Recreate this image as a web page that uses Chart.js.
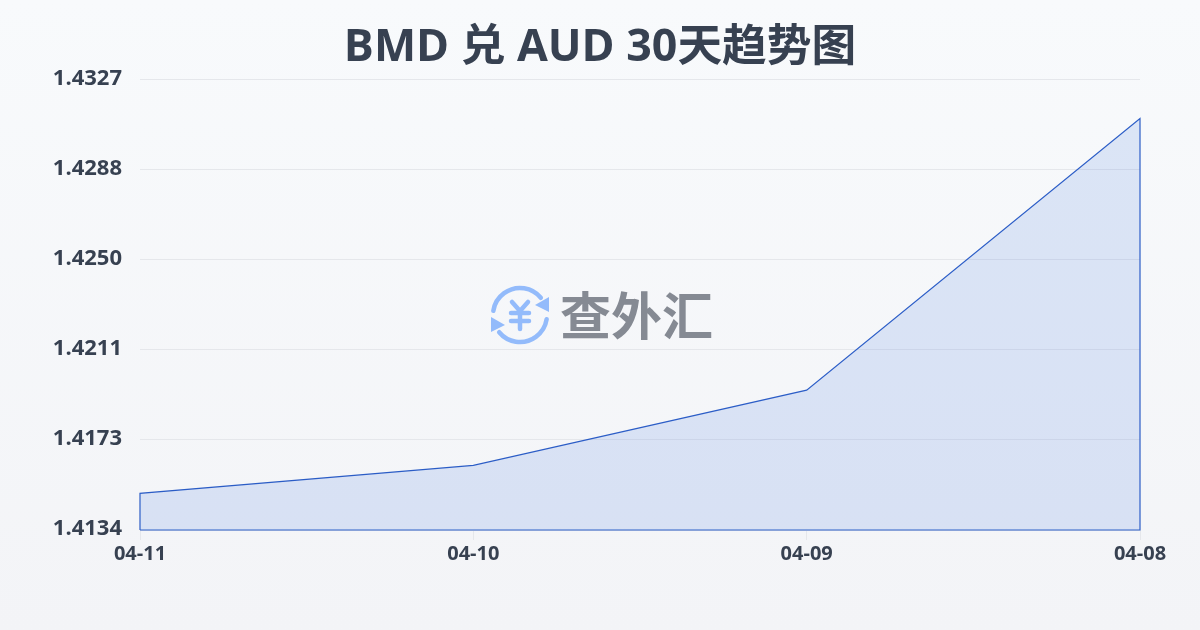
<!DOCTYPE html>
<html>
<head>
<meta charset="utf-8">
<style>
    html, body { margin: 0; padding: 0; width: 1200px; height: 630px; overflow: hidden; }
    body { background: linear-gradient(180deg, #f8fafc 0%, #f3f4f7 100%); }
    canvas { display: block; }
</style>
</head>
<body>
<canvas id="rateChart" width="1200" height="630"></canvas>
<script src="https://cdn.jsdelivr.net/npm/chart.js@4/dist/chart.umd.min.js"></script>
<script>
const dates = ['04-11', '04-10', '04-09', '04-08'];
const rates = [1.41497, 1.41617, 1.4194, 1.43105];
const yTicks = [1.4134, 1.41726, 1.42112, 1.42498, 1.42884, 1.4327];
const titleText = 'BMD 兑 AUD 30天趋势图';
const watermarkText = '查外汇';

const textColor = '#374151';
const latinFont = '"Open Sans", "Noto Sans CJK SC", sans-serif';
const cjkFont = '"Noto Sans CJK SC", "Noto Sans", sans-serif';

const ratePoints = rates.map((rate, i) => ({ x: i, y: rate }));

// Closed outline: up the left side, along the rates, down the right side and back
const outline = [{ x: 0, y: yTicks[0] }]
    .concat(ratePoints)
    .concat([{ x: rates.length - 1, y: yTicks[0] }, { x: 0, y: yTicks[0] }]);

// Watermark logo sits on top of the chart
const watermark = {
    id: 'watermark',
    afterDraw(chart) {
        const ctx = chart.ctx;
        ctx.save();
        ctx.strokeStyle = '#93bbfb';
        ctx.fillStyle = '#93bbfb';
        ctx.lineCap = 'round';
        ctx.lineJoin = 'round';
        ctx.lineWidth = 4.5;

        // Two arrows going round the yen sign
        ctx.beginPath();
        ctx.arc(520, 315, 27, Math.PI * 1.05, Math.PI * 1.78);
        ctx.stroke();
        ctx.beginPath();
        ctx.arc(520, 315, 27, Math.PI * 0.05, Math.PI * 0.78);
        ctx.stroke();
        ctx.beginPath();
        ctx.moveTo(549, 297);
        ctx.lineTo(549, 312);
        ctx.lineTo(535, 305);
        ctx.closePath();
        ctx.fill();
        ctx.beginPath();
        ctx.moveTo(491, 332);
        ctx.lineTo(491, 317);
        ctx.lineTo(505, 325);
        ctx.closePath();
        ctx.fill();

        // Yen sign
        ctx.lineWidth = 4.5;
        ctx.beginPath();
        ctx.moveTo(512, 302);
        ctx.lineTo(520, 311);
        ctx.lineTo(528, 302);
        ctx.moveTo(520, 311);
        ctx.lineTo(520, 329);
        ctx.moveTo(511, 313);
        ctx.lineTo(529, 313);
        ctx.moveTo(511, 321);
        ctx.lineTo(529, 321);
        ctx.stroke();

        ctx.fillStyle = '#858a93';
        ctx.font = '700 51px ' + cjkFont;
        ctx.textAlign = 'left';
        ctx.textBaseline = 'middle';
        ctx.fillText(watermarkText, 560, 316);
        ctx.restore();
    }
};

new Chart(document.getElementById('rateChart').getContext('2d'), {
    type: 'line',
    data: {
        datasets: [{
            // Area under the rates
            data: ratePoints,
            borderWidth: 0,
            backgroundColor: 'rgba(58, 114, 223, 0.15)',
            fill: 'start',
            pointRadius: 0,
            tension: 0
        }, {
            data: outline,
            borderColor: '#2b5cc5',
            borderWidth: 1.2,
            // non-empty dash keeps the vertical edges from being merged by the fast path
            borderDash: [3000, 0],
            fill: false,
            pointRadius: 0,
            tension: 0,
            clip: false
        }]
    },
    plugins: [watermark],
    options: {
        responsive: false,
        animation: false,
        plugins: {
            legend: { display: false },
            tooltip: { enabled: false },
            title: {
                display: true,
                text: titleText,
                color: textColor,
                font: { family: latinFont, size: 44.7, weight: '700', lineHeight: 1.208 },
                padding: { top: 21, bottom: 5 }
            }
        },
        scales: {
            x: {
                type: 'linear',
                min: 0,
                max: dates.length - 1,
                afterBuildTicks: axis => {
                    axis.ticks = dates.map((d, i) => ({ value: i }));
                },
                afterFit: axis => { axis.height = 100; },
                grid: { drawOnChartArea: false, tickLength: 10, tickColor: '#e5e7eb' },
                border: { display: false },
                ticks: {
                    color: textColor,
                    font: { family: latinFont, size: 20, weight: '700' },
                    maxRotation: 0,
                    padding: 2,
                    callback: value => dates[value]
                }
            },
            y: {
                type: 'linear',
                min: yTicks[0],
                max: yTicks[yTicks.length - 1],
                afterBuildTicks: axis => {
                    axis.ticks = yTicks.map(v => ({ value: v }));
                },
                afterFit: axis => { axis.width = 140; },
                grid: { color: '#e5e7eb', lineWidth: 1, drawTicks: false },
                border: { display: false },
                ticks: {
                    color: textColor,
                    font: { family: latinFont, size: 22, weight: '700' },
                    padding: 18,
                    labelOffset: -1,
                    callback: value => value.toFixed(4)
                }
            },
            // Empty right axis only reserves the margin, so the title stays centred on the page
            yRight: {
                position: 'right',
                afterFit: axis => { axis.width = 60; },
                grid: { display: false },
                border: { display: false },
                ticks: { display: false }
            }
        }
    }
});
</script>
</body>
</html>
